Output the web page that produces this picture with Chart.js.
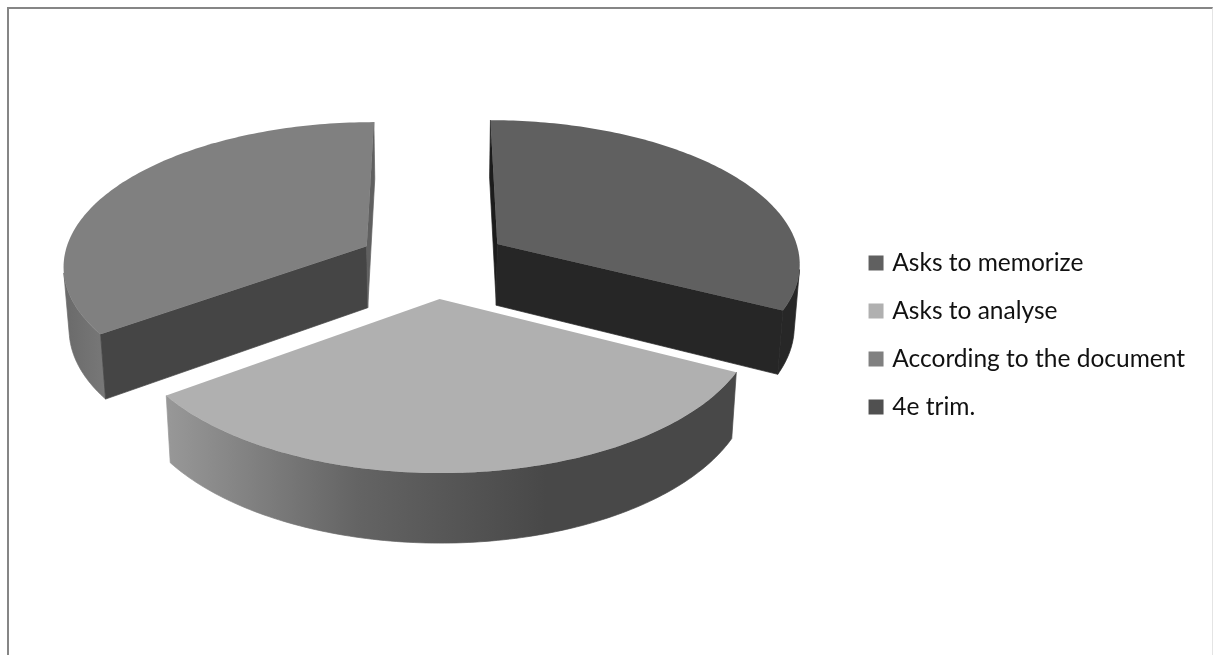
<!DOCTYPE html>
<html>
<head>
<meta charset="utf-8">
<title>3D pie</title>
<script src="https://cdn.jsdelivr.net/npm/chart.js@4"></script>
<style>
    html, body { margin: 0; padding: 0; background: #fff; overflow: hidden; }
    #frame { position: absolute; left: 7px; top: 7px; width: 1203px; height: 660px;
             border-top: 2px solid #868686; border-left: 2px solid #868686; border-right: 1px solid #e4e4e4; }
    canvas { position: absolute; left: 0; top: 0; }
</style>
</head>
<body>
<div id="frame"></div>
<canvas id="pie" width="1213" height="655"></canvas>
<script>
const categories = ['Asks to memorize', 'Asks to analyse', 'According to the document', '4e trim.'];
const shares = [32.5, 32.5, 35, 0];
const topColors = ['#606060', '#b0b0b0', '#808080', '#505050'];
const startFaceColors = ['#1c1c1c', '#808080', '#454545', '#505050'];
const endFaceColors = ['#262626', '#808080', '#606060', '#505050'];
const wallColors = [
    ['#272727', '#272727'],
    ['#989898', '#646464', '#484848', '#484848'],
    ['#6a6a6a', '#787878'],
    ['#505050', '#505050']
];

// Camera for the tilted disc, in pixels
const CX = 433.5, CY = 262.3, RX = 304, TILT = 143, PERSP = 0.122, DEPTH = 63, FLOOR = 0.985;
const EXPLODE = 0.25;

function project(x, y, low) {
    const s = 1 / (1 - PERSP * y);
    const k = low ? FLOOR : 1;
    return [CX + x * RX * s * k, CY + (y * TILT + (low ? DEPTH : 0)) * s * k];
}

function fillPoly(ctx, pts, fill, seal) {
    ctx.beginPath();
    pts.forEach((p, i) => i ? ctx.lineTo(p[0], p[1]) : ctx.moveTo(p[0], p[1]));
    ctx.closePath();
    ctx.fillStyle = fill;
    ctx.fill();
    // thin stroke closes the hairline between neighbouring faces
    if (seal) {
        ctx.strokeStyle = fill;
        ctx.lineWidth = 0.7;
        ctx.stroke();
    }
}

function facesViewer(pts) {
    let area = 0;
    pts.forEach((p, i) => {
        const q = pts[(i + 1) % pts.length];
        area += p[0] * q[1] - q[0] * p[1];
    });
    return area > 0;
}

function drawSlice(ctx, arc, i) {
    const a0 = arc.startAngle, a1 = arc.endAngle;
    if (a1 - a0 <= 0) return;
    const mid = (a0 + a1) / 2;
    const ox = EXPLODE * Math.cos(mid), oy = EXPLODE * Math.sin(mid);
    const rim = (a, low) => project(ox + Math.cos(a), oy + Math.sin(a), low);
    const apex = low => project(ox, oy, low);
    const steps = 120;

    // outer wall, only the stretch turned to the viewer
    const upper = [], lower = [];
    for (let n = 0; n < steps; n++) {
        const a = a0 + (a1 - a0) * n / steps, b = a0 + (a1 - a0) * (n + 1) / steps;
        if (facesViewer([rim(a, false), rim(a, true), rim(b, true), rim(b, false)])) {
            if (!upper.length) { upper.push(rim(a, false)); lower.push(rim(a, true)); }
            upper.push(rim(b, false));
            lower.push(rim(b, true));
        }
    }
    if (upper.length) {
        const xs = upper.concat(lower).map(p => p[0]);
        const grad = ctx.createLinearGradient(Math.min(...xs), 0, Math.max(...xs), 0);
        wallColors[i].forEach((c, n) => grad.addColorStop(n / (wallColors[i].length - 1), c));
        fillPoly(ctx, upper.concat(lower.reverse()), grad, true);
    }

    // cut faces
    const faceA = [apex(false), apex(true), rim(a0, true), rim(a0, false)];
    const faceB = [rim(a1, false), rim(a1, true), apex(true), apex(false)];
    if (facesViewer(faceA)) fillPoly(ctx, faceA, startFaceColors[i], true);
    if (facesViewer(faceB)) fillPoly(ctx, faceB, endFaceColors[i], true);

    // top
    const top = [apex(false)];
    for (let n = 0; n <= steps; n++) top.push(rim(a0 + (a1 - a0) * n / steps, false));
    fillPoly(ctx, top, arc.options.backgroundColor, false);
}

const tiltedPie = {
    id: 'tiltedPie',
    beforeDatasetsDraw(chart) {
        const arcs = chart.getDatasetMeta(0).data;
        // back slices first, the front one last
        const order = arcs.map((arc, i) => i).sort((a, b) =>
            Math.sin((arcs[a].startAngle + arcs[a].endAngle) / 2) - Math.sin((arcs[b].startAngle + arcs[b].endAngle) / 2));
        order.forEach(i => drawSlice(chart.ctx, arcs[i], i));
        return false;
    }
};

new Chart(document.getElementById('pie').getContext('2d'), {
    type: 'pie',
    data: {
        labels: categories,
        datasets: [{ data: shares, backgroundColor: topColors, borderWidth: 0 }]
    },
    options: {
        responsive: false,
        animation: false,
        layout: { padding: { top: 15, right: 18, bottom: 0, left: 0 } },
        plugins: {
            tooltip: { enabled: false },
            legend: {
                position: 'right',
                labels: {
                    usePointStyle: true,
                    pointStyle: 'rect',
                    boxWidth: 8,
                    boxHeight: 15,
                    padding: 23.5,
                    color: '#111',
                    font: { family: 'Lato', size: 24.5 }
                }
            }
        }
    },
    plugins: [tiltedPie]
});
</script>
</body>
</html>
